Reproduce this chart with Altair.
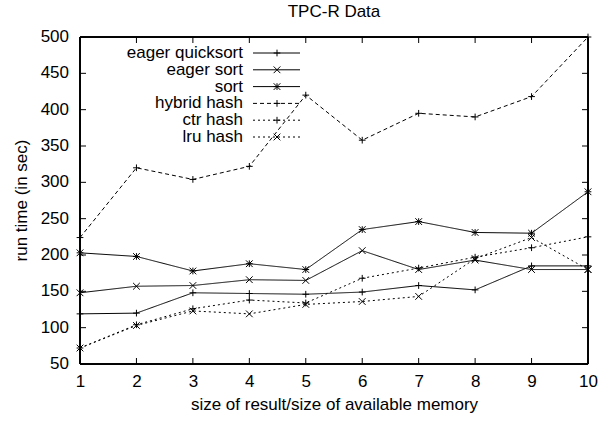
import altair as alt
import pandas as pd

# ---- data ----
x_vals = [1, 2, 3, 4, 5, 6, 7, 8, 9, 10]
series_names = ["eager quicksort", "eager sort", "sort", "hybrid hash", "ctr hash", "lru hash"]
eager_quicksort = [119, 120, 148, 147, 146, 149, 158, 152, 185, 185]
eager_sort = [148, 157, 158, 166, 165, 206, 180, 193, 180, 180]
sort_vals = [203, 198, 178, 188, 180, 235, 246, 231, 230, 287]
hybrid_hash = [224, 320, 304, 322, 420, 358, 395, 390, 418, 500]
ctr_hash = [72, 104, 126, 138, 134, 168, 182, 197, 210, 225]
lru_hash = [72, 103, 123, 119, 132, 136, 143, 195, 224, 180]
y_ticks = [50, 100, 150, 200, 250, 300, 350, 400, 450, 500]
x_ticks = [1, 2, 3, 4, 5, 6, 7, 8, 9, 10]
y_title = ["run time (in sec)"]

all_series = [eager_quicksort, eager_sort, sort_vals, hybrid_hash, ctr_hash, lru_hash]
rows = []
for name, vals in zip(series_names, all_series):
    for xv, yv in zip(x_vals, vals):
        rows.append({"series": name, "x": xv, "y": yv})
df = pd.DataFrame(rows)

legend_df = pd.DataFrame({"series": series_names, "idx": list(range(len(series_names)))})
ytick_df = pd.DataFrame({"v": y_ticks})
xtick_df = pd.DataFrame({"v": x_ticks})
ytitle_df = pd.DataFrame({"t": y_title})

# ---- styling ----
W, H = 508, 327
FONT = "Liberation Sans"
FS = 17
PLUS = "M-1,0L1,0M0,-1L0,1"
CROSS = "M-1,-1L1,1M-1,1L1,-1"
STAR = "M-1,0L1,0M0,-1L0,1M-1,-1L1,1M-1,1L1,-1"
shape_range = [PLUS, CROSS, STAR, PLUS, PLUS, CROSS]
dash_range = [[1, 0], [1, 0], [1, 0], [4, 3], [2, 3], [2, 3]]

xscale = alt.Scale(domain=[1, 10], nice=False, zero=False)
yscale = alt.Scale(domain=[50, 500], nice=False, zero=False)
dash_scale = alt.Scale(domain=series_names, range=dash_range)
shape_scale = alt.Scale(domain=series_names, range=shape_range)

x_enc = alt.X("x:Q", scale=xscale, axis=alt.Axis(
    values=x_ticks, format="d", title="size of result/size of available memory",
    labelPadding=9, titlePadding=7))
y_enc = alt.Y("y:Q", scale=yscale, axis=None)

base = alt.Chart(df)
lines = base.mark_line(color="black", strokeWidth=1).encode(
    x=x_enc, y=y_enc,
    strokeDash=alt.StrokeDash("series:N", scale=dash_scale, legend=None),
    detail="series:N")
points = base.mark_point(filled=False, color="black", strokeWidth=1, size=45, opacity=1).encode(
    x=alt.X("x:Q", scale=xscale), y=alt.Y("y:Q", scale=yscale, axis=None),
    shape=alt.Shape("series:N", scale=shape_scale, legend=None))

# frame
frame = [
    alt.Chart(legend_df).mark_rule(color="black", strokeWidth=1).encode(
        x=alt.value(0), x2=alt.value(W), y=alt.value(0)),
    alt.Chart(legend_df).mark_rule(color="black", strokeWidth=1).encode(
        x=alt.value(0), x2=alt.value(W), y=alt.value(H)),
    alt.Chart(legend_df).mark_rule(color="black", strokeWidth=1).encode(
        y=alt.value(0), y2=alt.value(H), x=alt.value(0)),
    alt.Chart(legend_df).mark_rule(color="black", strokeWidth=1).encode(
        y=alt.value(0), y2=alt.value(H), x=alt.value(W)),
]

# inward ticks on all four sides
TL = 6
yt_left = alt.Chart(ytick_df).mark_rule(color="black", strokeWidth=1).encode(
    y=alt.Y("v:Q", scale=yscale, axis=None), x=alt.value(0), x2=alt.value(TL))
yt_right = alt.Chart(ytick_df).mark_rule(color="black", strokeWidth=1).encode(
    y=alt.Y("v:Q", scale=yscale, axis=None), x=alt.value(W - TL), x2=alt.value(W))
xt_bottom = alt.Chart(xtick_df).mark_rule(color="black", strokeWidth=1).encode(
    x=alt.X("v:Q", scale=xscale), y=alt.value(H - TL), y2=alt.value(H))
xt_top = alt.Chart(xtick_df).mark_rule(color="black", strokeWidth=1).encode(
    x=alt.X("v:Q", scale=xscale), y=alt.value(0), y2=alt.value(TL))

# y-axis labels and title
y_labels = alt.Chart(ytick_df).mark_text(
    align="right", baseline="middle", font=FONT, fontSize=FS, color="black").encode(
    y=alt.Y("v:Q", scale=yscale, axis=None), x=alt.value(-11), text=alt.Text("v:Q", format="d"))
y_title_mark = alt.Chart(ytitle_df).mark_text(
    angle=270, align="center", baseline="middle", font=FONT, fontSize=FS, color="black").encode(
    text="t:N", x=alt.value(-58), y=alt.value(H / 2))

# gnuplot-style key (label, then line sample with marker)
leg = alt.Chart(legend_df).transform_calculate(ly="16 + 16.8 * datum.idx")
leg_text = leg.mark_text(align="right", baseline="middle", font=FONT, fontSize=FS, color="black").encode(
    text="series:N", y=alt.Y("ly:Q", scale=None, axis=None), x=alt.value(163))
leg_line = leg.mark_rule(color="black", strokeWidth=1).encode(
    y=alt.Y("ly:Q", scale=None, axis=None), x=alt.value(173), x2=alt.value(220),
    strokeDash=alt.StrokeDash("series:N", scale=dash_scale, legend=None))
leg_pt = leg.mark_point(filled=False, color="black", strokeWidth=1, size=45, opacity=1).encode(
    y=alt.Y("ly:Q", scale=None, axis=None), x=alt.value(197),
    shape=alt.Shape("series:N", scale=shape_scale, legend=None))

chart = alt.layer(
    lines, *frame, yt_left, yt_right, xt_bottom, xt_top, y_labels, y_title_mark,
    points, leg_text, leg_line, leg_pt
).resolve_scale(strokeDash="shared", shape="shared").properties(
    width=W, height=H,
    title=alt.TitleParams("TPC-R Data", font=FONT, fontSize=FS, fontWeight="normal", color="black", offset=7),
    autosize=alt.AutoSizeParams(type="none"),
    padding={"left": 80, "top": 37, "right": 28, "bottom": 57},
).configure_view(stroke=None).configure(background="white").configure_axis(
    ticks=False, domain=False, grid=False, labelOverlap=False, labelBound=False, labelFlush=False,
    labelFont=FONT, labelFontSize=FS, labelColor="black",
    titleFont=FONT, titleFontSize=FS, titleFontWeight="normal", titleColor="black")

chart.save("out.html", embed_options={"renderer": "svg", "actions": False})
